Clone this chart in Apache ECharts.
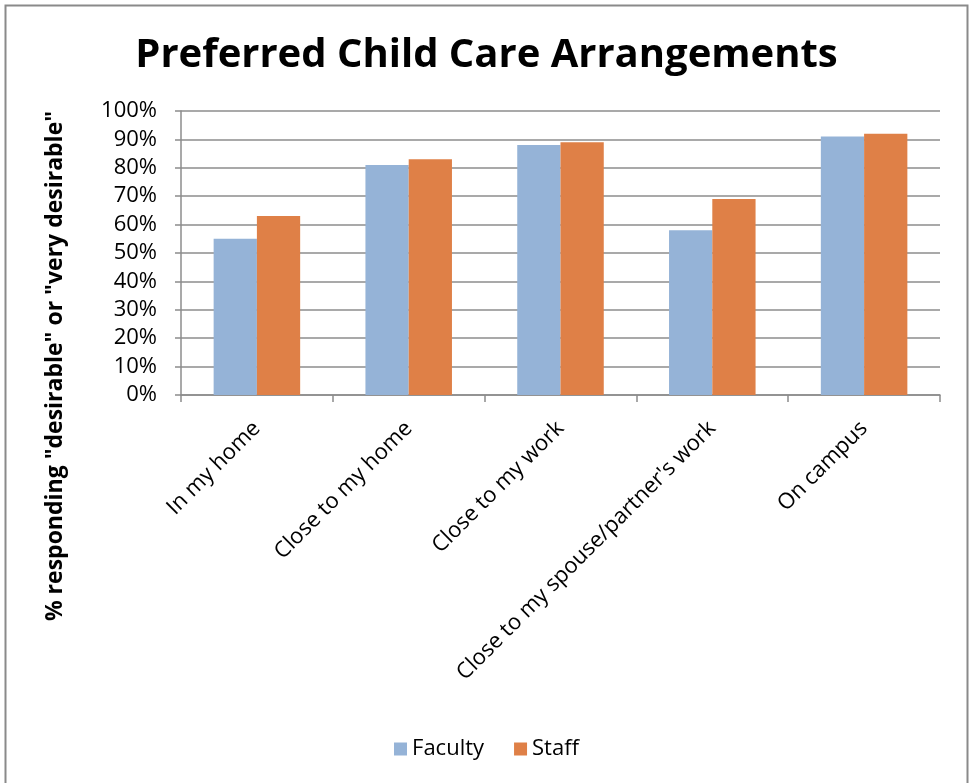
<!DOCTYPE html>
<html>
<head>
<meta charset="utf-8">
<script src="https://cdn.jsdelivr.net/npm/echarts@6/dist/echarts.min.js"></script>
<style>
html,body{margin:0;padding:0;background:#fff;}
#main{width:973px;height:783px;}
</style>
</head>
<body>
<div id="main"></div>
<script>
const categories = ["In my home", "Close to my home", "Close to my work", "Close to my spouse/partner's work", "On campus"];
const faculty = [55, 81, 88, 58, 91];
const staff = [63, 83, 89, 69, 92];
const seriesNames = ["Faculty", "Staff"];

const FONT = "Open Sans";
const chart = echarts.init(document.getElementById('main'), null, {renderer: 'canvas'});
chart.setOption({
  backgroundColor: '#fff',
  animation: false,
  title: {
    text: 'Preferred Child Care Arrangements',
    left: 'center',
    top: 31,
    textStyle: {fontFamily: FONT, fontWeight: 'bold', fontSize: 40, color: '#000'}
  },
  graphic: [
    {type: 'rect', shape: {x: 5.5, y: 5.5, width: 962, height: 800}, style: {fill: 'none', stroke: '#8a8a8a', lineWidth: 2}, silent: true},
    {type: 'text', x: 55, y: 366, rotation: Math.PI/2,
     style: {text: '% responding "desirable" or "very desirable"', fontFamily: FONT, fontWeight: 'bold', fontSize: 23, fill: '#000', align: 'center', verticalAlign: 'middle'}}
  ],
  legend: {
    bottom: 18,
    left: 'center',
    itemWidth: 13, itemHeight: 13, itemGap: 30,
    icon: 'rect',
    textStyle: {fontFamily: FONT, fontSize: 22, color: '#000'},
    data: seriesNames
  },
  grid: {left: 181, right: 33, top: 111, bottom: 388, containLabel: false},
  xAxis: {
    type: 'category',
    data: categories,
    axisLine: {lineStyle: {color: '#8c8c8c', width: 1.5}},
    axisTick: {show: true, length: 7, alignWithLabel: false, lineStyle: {color: '#8c8c8c', width: 1.5}},
    axisLabel: {rotate: 45, margin: 30, interval: 0, fontFamily: FONT, fontSize: 22, color: '#000'}
  },
  yAxis: {
    type: 'value',
    min: 0, max: 100, interval: 10,
    axisLine: {show: true, lineStyle: {color: '#8c8c8c', width: 1.5}},
    axisTick: {show: true, length: 6, lineStyle: {color: '#8c8c8c', width: 1.5}},
    splitLine: {lineStyle: {color: '#8c8c8c', width: 1.5}},
    axisLabel: {formatter: '{value}%', margin: 24, fontFamily: FONT, fontSize: 22, color: '#000'}
  },
  series: [
    {name: seriesNames[0], type: 'bar', data: faculty, barGap: '0%', barCategoryGap: '43%',
     itemStyle: {color: '#95B3D7'}},
    {name: seriesNames[1], type: 'bar', data: staff, barGap: '0%', barCategoryGap: '43%',
     itemStyle: {color: '#DF8047'}}
  ]
});
</script>
</body>
</html>
